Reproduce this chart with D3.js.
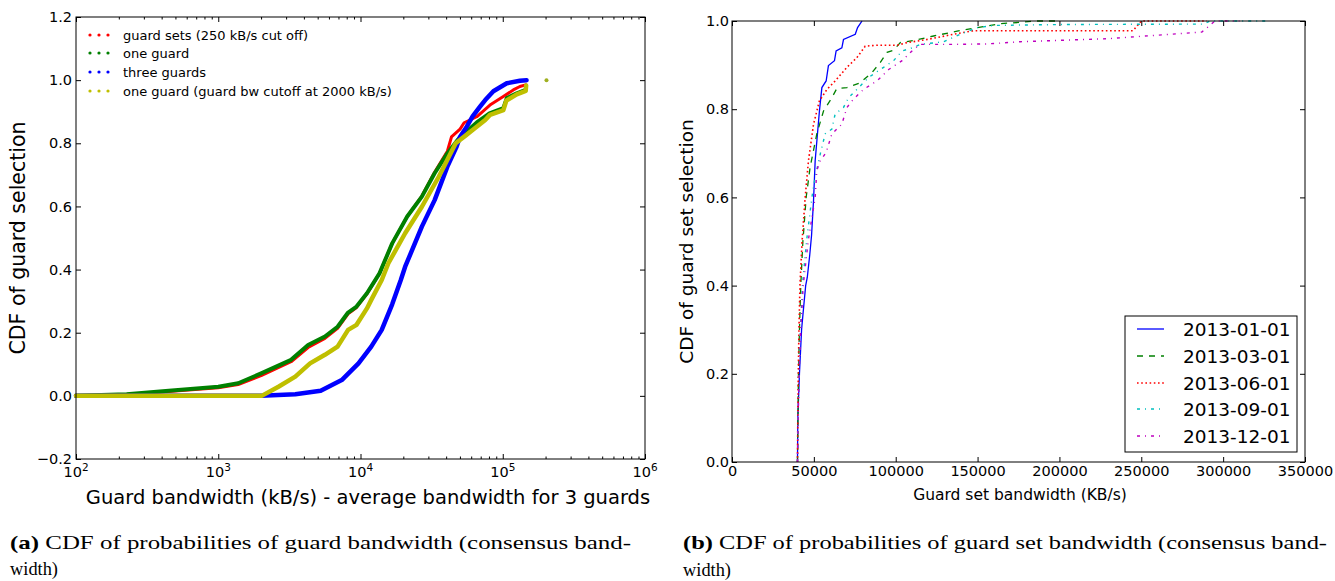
<!DOCTYPE html>
<html>
<head>
<meta charset="utf-8">
<script src="https://cdn.jsdelivr.net/npm/d3@7"></script>
<style>
  body { margin: 0; background: #fff; }
  svg { display: block; }
  text { font-family: "DejaVu Sans", sans-serif; fill: #000; }
  .cap { font-family: "Liberation Serif", "DejaVu Serif", serif; }
</style>
</head>
<body>
<svg id="chart" width="1335" height="581"></svg>
<script>
// ---------------- Left chart data (x: kB/s, y: CDF) ----------------
const leftSeriesNames = ["guard sets (250 kB/s cut off)", "one guard", "three guards", "one guard (guard bw cutoff at 2000 kB/s)"];
const guardSetsRed = [[100,0],[227,0.004],[449,0.014],[1000,0.026],[1380,0.036],[2020,0.065],[3250,0.108],[4280,0.153],[5620,0.182],[6900,0.214],[8180,0.26],[9380,0.28],[11100,0.323],[13600,0.388],[16700,0.483],[21300,0.568],[27000,0.633],[33200,0.708],[40800,0.775],[43600,0.82],[50100,0.845],[53500,0.865],[65600,0.884],[81300,0.921],[100900,0.948],[118600,0.969],[132000,0.98],[145000,0.985]];
const oneGuardGreen = [[100,0],[227,0.005],[449,0.016],[1000,0.029],[1380,0.04],[2020,0.072],[3250,0.114],[4280,0.161],[5620,0.188],[6900,0.219],[8180,0.264],[9380,0.283],[11100,0.325],[13600,0.388],[16700,0.483],[21300,0.568],[27000,0.631],[33200,0.705],[40800,0.768],[48300,0.811],[55000,0.835],[65700,0.866],[80700,0.895],[101000,0.911],[106700,0.943],[125400,0.958],[145000,0.969]];
const threeGuardsBlue = [[100,0],[2000,0],[3480,0.005],[5250,0.016],[7380,0.05],[9680,0.103],[11900,0.156],[14100,0.209],[16700,0.29],[19200,0.367],[20600,0.409],[27000,0.536],[33200,0.62],[40800,0.726],[47400,0.79],[50000,0.82],[55700,0.852],[61400,0.885],[69200,0.916],[75300,0.937],[85900,0.965],[106700,0.99],[132000,0.998],[147000,1.0]];
const cutoffYellow = [[100,0],[2020,0],[2650,0.029],[3480,0.061],[4420,0.103],[5620,0.13],[6900,0.156],[8180,0.209],[9380,0.225],[11100,0.277],[11900,0.304],[14100,0.367],[15700,0.42],[20600,0.515],[27000,0.599],[35500,0.694],[46700,0.8],[55000,0.825],[61400,0.842],[75300,0.874],[81300,0.89],[101000,0.905],[106000,0.935],[125400,0.955],[145000,0.966],[146000,0.983]];
const isolatedPoint = [203000, 1.0];
const leftXTicks = [100, 1000, 10000, 100000, 1000000];
const leftXTickExp = ["2", "3", "4", "5", "6"];
const leftYTicks = [-0.2, 0, 0.2, 0.4, 0.6, 0.8, 1.0, 1.2];
const leftYTickLabels = ["\u22120.2", "0.0", "0.2", "0.4", "0.6", "0.8", "1.0", "1.2"];

// ---------------- Right chart data (x: KB/s, y: CDF) ----------------
const rightSeriesNames = ["2013-01-01", "2013-03-01", "2013-06-01", "2013-09-01", "2013-12-01"];
const jan = [[40000,0],[40200,0.1],[41200,0.2],[42500,0.3],[43400,0.337],[45000,0.4],[46000,0.419],[47500,0.47],[48600,0.514],[49800,0.593],[50800,0.683],[53400,0.796],[54900,0.849],[57500,0.864],[58900,0.899],[62600,0.91],[63600,0.932],[67100,0.939],[68100,0.958],[75300,0.97],[76700,0.985],[79400,1.0]];
const mar = [[40000,0],[40300,0.1],[40600,0.2],[41200,0.3],[42000,0.4],[43300,0.5],[45300,0.6],[47700,0.668],[51800,0.744],[55900,0.796],[61000,0.826],[64000,0.847],[70200,0.849],[78300,0.86],[85500,0.883],[90600,0.906],[94700,0.929],[98700,0.934],[102800,0.951],[111000,0.956],[123200,0.966],[137500,0.977],[149800,0.985],[164000,0.994],[176200,0.997],[185000,1.0],[200000,1.0]];
const jun = [[40000,0],[40200,0.1],[40500,0.2],[40900,0.3],[41500,0.4],[42800,0.5],[44700,0.6],[46700,0.683],[49800,0.766],[53400,0.819],[58000,0.845],[63000,0.864],[70200,0.895],[76300,0.917],[81400,0.943],[88500,0.945],[100800,0.945],[106900,0.951],[119100,0.958],[135300,0.97],[147700,0.978],[160000,0.978],[245000,0.978],[250000,1.0],[290000,1.0]];
const sep = [[40000,0],[40300,0.1],[41000,0.2],[41800,0.3],[43000,0.4],[45500,0.5],[48800,0.6],[50800,0.646],[53900,0.698],[56900,0.744],[61000,0.755],[63000,0.789],[68100,0.804],[71200,0.826],[76300,0.845],[83400,0.872],[92600,0.895],[98700,0.91],[103900,0.932],[110000,0.939],[115100,0.947],[129300,0.953],[139500,0.97],[149800,0.985],[160000,0.99],[200000,0.992],[288000,0.993],[292000,1.0],[327000,1.0]];
const dec = [[40000,0],[40400,0.1],[41000,0.2],[42000,0.3],[43500,0.4],[46500,0.5],[50800,0.6],[51800,0.661],[53900,0.683],[57500,0.702],[61000,0.744],[67100,0.766],[70200,0.804],[74200,0.823],[80400,0.845],[88500,0.864],[95700,0.89],[103900,0.91],[111000,0.936],[115100,0.947],[135500,0.947],[155900,0.948],[176200,0.953],[230000,0.96],[287000,0.975],[295000,1.0],[310000,1.0]];
const rightXTicks = [0, 50000, 100000, 150000, 200000, 250000, 300000, 350000];
const rightYTicks = [0, 0.2, 0.4, 0.6, 0.8, 1.0];

const svg = d3.select("#chart");
svg.append("rect").attr("width", 1335).attr("height", 581).attr("fill", "#fff");

// ================= LEFT CHART =================
const L = {left: 76, right: 645, top: 17, bottom: 459};
const xL = d3.scaleLog().domain([100, 1e6]).range([L.left, L.right]);
const yL = d3.scaleLinear().domain([-0.2, 1.2]).range([L.bottom, L.top]);
const gL = svg.append("g");

const minorL = [];
for (let e = 2; e < 6; e++) for (let m = 2; m <= 9; m++) minorL.push(m * Math.pow(10, e));

function styleAxis(g) { g.select(".domain").remove(); g.selectAll("line").attr("stroke", "#000"); }

gL.append("g").attr("transform", `translate(0,${L.bottom})`)
  .call(d3.axisBottom(xL).tickValues(leftXTicks).tickSizeInner(-5).tickSizeOuter(0).tickFormat(() => ""))
  .call(styleAxis);
gL.append("g").attr("transform", `translate(0,${L.bottom})`)
  .call(d3.axisBottom(xL).tickValues(minorL).tickSizeInner(-2.5).tickSizeOuter(0).tickFormat(() => ""))
  .call(styleAxis);
gL.append("g").attr("transform", `translate(0,${L.top})`)
  .call(d3.axisTop(xL).tickValues(leftXTicks).tickSizeInner(-5).tickSizeOuter(0).tickFormat(() => ""))
  .call(styleAxis);
gL.append("g").attr("transform", `translate(0,${L.top})`)
  .call(d3.axisTop(xL).tickValues(minorL).tickSizeInner(-2.5).tickSizeOuter(0).tickFormat(() => ""))
  .call(styleAxis);
leftXTicks.forEach((v, i) => {
  const t = gL.append("text").attr("x", xL(v)).attr("y", 477).attr("text-anchor", "middle").attr("font-size", 14.5);
  t.append("tspan").text("10");
  t.append("tspan").attr("dy", -6).attr("font-size", 10.5).text(leftXTickExp[i]);
});
gL.append("g").attr("transform", `translate(${L.left},0)`)
  .call(d3.axisLeft(yL).tickValues(leftYTicks).tickSizeInner(-5).tickSizeOuter(0)
    .tickFormat((d, i) => leftYTickLabels[i]))
  .call(styleAxis)
  .call(g => g.selectAll("text").attr("font-size", 14.5).attr("font-family", "DejaVu Sans").attr("x", -4));
gL.append("g").attr("transform", `translate(${L.right},0)`)
  .call(d3.axisRight(yL).tickValues(leftYTicks).tickSizeInner(-5).tickSizeOuter(0).tickFormat(() => ""))
  .call(styleAxis);

const lineL = d3.line().x(d => xL(d[0])).y(d => yL(d[1]));
const leftSeries = [
  {data: guardSetsRed, color: "#ff0000", w: 3},
  {data: oneGuardGreen, color: "#008000", w: 4},
  {data: threeGuardsBlue, color: "#0000ff", w: 4.5},
  {data: cutoffYellow, color: "#bfbf00", w: 4.5}
];
leftSeries.forEach(s => {
  gL.append("path").attr("d", lineL(s.data)).attr("fill", "none").attr("stroke", s.color)
    .attr("stroke-width", s.w).attr("stroke-linejoin", "round").attr("stroke-linecap", "round");
});
gL.append("circle").attr("cx", xL(isolatedPoint[0])).attr("cy", yL(isolatedPoint[1])).attr("r", 2)
  .attr("fill", "#9fb020");
gL.append("rect").attr("x", L.left).attr("y", L.top).attr("width", L.right - L.left).attr("height", L.bottom - L.top)
  .attr("fill", "none").attr("stroke", "#000").attr("stroke-width", 1);
const legYL = [35, 53, 72, 91];
leftSeries.forEach((s, i) => {
  [90, 99, 108].forEach(cx => gL.append("circle").attr("cx", cx).attr("cy", legYL[i]).attr("r", 1.6).attr("fill", s.color));
  gL.append("text").attr("x", 123).attr("y", legYL[i]).attr("dy", "0.35em").attr("font-size", 13).text(leftSeriesNames[i]);
});
gL.append("text").attr("x", 368).attr("y", 504).attr("text-anchor", "middle").attr("font-size", 19.5)
  .text("Guard bandwidth (kB/s) - average bandwidth for 3 guards");
gL.append("text").attr("transform", `translate(18,${(L.top + L.bottom) / 2}) rotate(-90)`).attr("text-anchor", "middle")
  .attr("dy", "0.35em").attr("font-size", 20.5).text("CDF of guard selection");

// ================= RIGHT CHART =================
const R = {left: 732, right: 1305, top: 21, bottom: 462};
const xR = d3.scaleLinear().domain([0, 350000]).range([R.left, R.right]);
const yR = d3.scaleLinear().domain([0, 1]).range([R.bottom, R.top]);
const gR = svg.append("g");
gR.append("g").attr("transform", `translate(0,${R.bottom})`)
  .call(d3.axisBottom(xR).tickValues(rightXTicks).tickSizeInner(-5).tickSizeOuter(0).tickFormat(d3.format("d")))
  .call(styleAxis)
  .call(g => g.selectAll("text").attr("font-size", 14.5).attr("font-family", "DejaVu Sans").attr("y", 4));
gR.append("g").attr("transform", `translate(0,${R.top})`)
  .call(d3.axisTop(xR).tickValues(rightXTicks).tickSizeInner(-5).tickSizeOuter(0).tickFormat(() => ""))
  .call(styleAxis);
gR.append("g").attr("transform", `translate(${R.left},0)`)
  .call(d3.axisLeft(yR).tickValues(rightYTicks).tickSizeInner(-5).tickSizeOuter(0).tickFormat(d3.format(".1f")))
  .call(styleAxis)
  .call(g => g.selectAll("text").attr("font-size", 14.5).attr("font-family", "DejaVu Sans").attr("x", -3));
gR.append("g").attr("transform", `translate(${R.right},0)`)
  .call(d3.axisRight(yR).tickValues(rightYTicks).tickSizeInner(-5).tickSizeOuter(0).tickFormat(() => ""))
  .call(styleAxis);

const lineR = d3.line().x(d => xR(d[0])).y(d => yR(d[1]));
const rightSeries = [
  {data: jan, color: "#0000ff", dash: null, w: 1.3},
  {data: mar, color: "#008000", dash: "6,6", w: 1.3},
  {data: jun, color: "#ff0000", dash: "1.6,2.6", w: 1.6},
  {data: sep, color: "#00bfbf", dash: "3,5,1,5", w: 1.4},
  {data: dec, color: "#bf00bf", dash: "3,5,1,5", w: 1.4}
];
rightSeries.forEach(s => {
  gR.append("path").attr("d", lineR(s.data)).attr("fill", "none").attr("stroke", s.color)
    .attr("stroke-width", s.w).attr("stroke-dasharray", s.dash);
});
gR.append("rect").attr("x", R.left).attr("y", R.top).attr("width", R.right - R.left).attr("height", R.bottom - R.top)
  .attr("fill", "none").attr("stroke", "#000").attr("stroke-width", 1);
gR.append("rect").attr("x", 1125).attr("y", 316).attr("width", 172).attr("height", 136)
  .attr("fill", "#fff").attr("stroke", "#000").attr("stroke-width", 1);
const legYR = [329, 356, 383, 409, 436];
rightSeries.forEach((s, i) => {
  gR.append("line").attr("x1", 1137).attr("x2", 1164).attr("y1", legYR[i]).attr("y2", legYR[i])
    .attr("stroke", s.color).attr("stroke-width", s.w).attr("stroke-dasharray", s.dash);
  gR.append("text").attr("x", 1183).attr("y", legYR[i]).attr("dy", "0.36em").attr("font-size", 18.5).text(rightSeriesNames[i]);
});
gR.append("text").attr("x", 1020).attr("y", 500).attr("text-anchor", "middle").attr("font-size", 15.5)
  .text("Guard set bandwidth (KB/s)");
gR.append("text").attr("transform", `translate(687,${(R.top + R.bottom) / 2}) rotate(-90)`).attr("text-anchor", "middle")
  .attr("dy", "0.35em").attr("font-size", 18.5).text("CDF of guard set selection");

// ================= CAPTIONS =================
function caption(x, y, bold, rest, len) {
  const t = svg.append("text").attr("class", "cap").attr("x", x).attr("y", y).attr("font-size", 19.5);
  if (len) t.attr("textLength", len).attr("lengthAdjust", "spacingAndGlyphs");
  if (bold) t.append("tspan").attr("font-weight", "bold").text(bold);
  t.append("tspan").text(rest);
}
caption(10, 549, "(a)", " CDF of probabilities of guard bandwidth (consensus band-", 621);
caption(10, 575, null, "width)", 48);
caption(683, 549, "(b)", " CDF of probabilities of guard set bandwidth (consensus band-", 644);
caption(683, 576, null, "width)", 48);
</script>
</body>
</html>
